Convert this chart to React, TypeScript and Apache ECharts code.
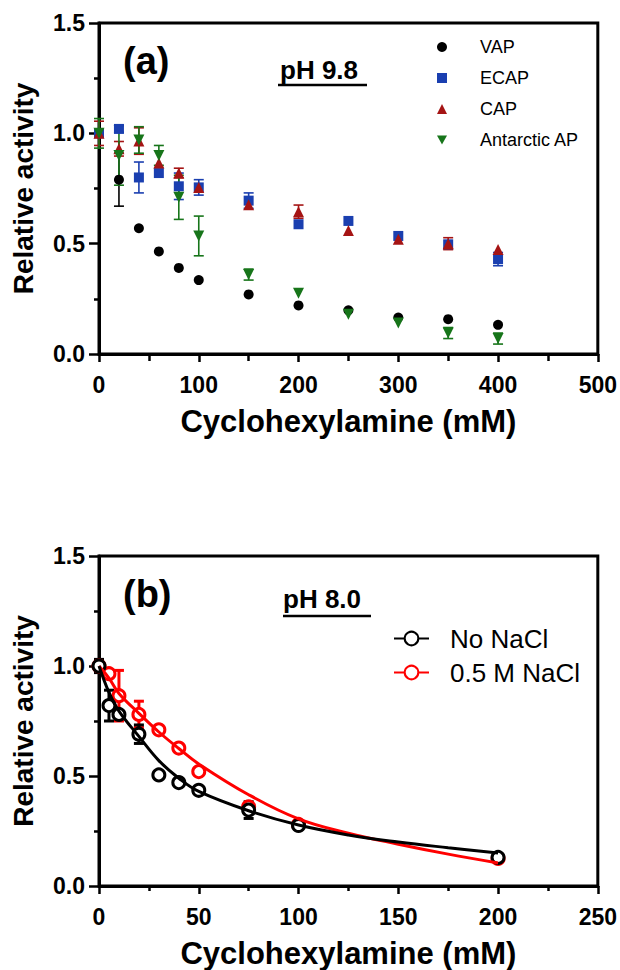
import React, { useEffect, useRef } from 'react';
import * as echarts from 'echarts';

const FONT = '"Liberation Sans", Arial, Helvetica, sans-serif';

// ---------- Panel (a): pH 9.8 ----------
const concA = [0, 20, 40, 60, 80, 100, 150, 200, 250, 300, 350, 400];
const vapMean = [1.0, 0.79, 0.57, 0.465, 0.39, 0.335, 0.27, 0.22, 0.198, 0.165, 0.158, 0.132];
const vapErr = [0, 0.12, 0, 0, 0, 0, 0, 0, 0, 0, 0, 0];
const ecapMean = [1.0, 1.02, 0.8, 0.82, 0.76, 0.755, 0.695, 0.588, 0.603, 0.535, 0.497, 0.43];
const ecapErr = [0, 0.015, 0.07, 0, 0.06, 0.035, 0.035, 0, 0, 0, 0, 0.03];
const capMean = [1.0, 0.93, 0.965, 0.865, 0.82, 0.755, 0.676, 0.645, 0.56, 0.52, 0.5, 0.474];
const capErr = [0.055, 0.033, 0.06, 0, 0.022, 0, 0, 0.03, 0, 0, 0.027, 0];
const aapMean = [1.0, 0.9, 0.97, 0.9, 0.71, 0.535, 0.36, 0.275, 0.18, 0.14, 0.095, 0.07];
const aapErr = [0.067, 0.135, 0.06, 0.045, 0.1, 0.09, 0.025, 0, 0, 0, 0.025, 0.025];

// ---------- Panel (b): pH 8.0 ----------
const concB = [0, 5, 10, 20, 30, 40, 50, 75, 100, 200];
const noNaClMean = [1.0, 0.82, 0.78, 0.69, 0.505, 0.47, 0.435, 0.345, 0.275, 0.13];
const noNaClErr = [0.03, 0.07, 0, 0.042, 0, 0, 0, 0.038, 0, 0];
const naclMean = [1.0, 0.965, 0.865, 0.78, 0.71, 0.627, 0.52, 0.36, 0.28, 0.125];
const naclErr = [0, 0, 0.115, 0.06, 0, 0, 0, 0, 0, 0];

// fitted curves
const fitX = [0, 5, 10, 20, 30, 40, 50, 75, 100, 125, 150, 175, 200];
const noNaClFit = [1.0, 0.88, 0.795, 0.68, 0.57, 0.49, 0.43, 0.342, 0.277, 0.232, 0.2, 0.174, 0.15];
const naclFit = [1.0, 0.945, 0.875, 0.785, 0.7, 0.625, 0.555, 0.415, 0.305, 0.24, 0.19, 0.145, 0.105];

const C_VAP = '#000000';
const C_ECAP = '#1a3fb0';
const C_CAP = '#a51414';
const C_AAP = '#17751a';
const C_RED = '#ff0000';

const pairs = (xs: number[], ys: number[]) => xs.map((x, i) => [x, ys[i]]);

function errSeries(name: string, xs: number[], m: number[], e: number[], color: string, width: number, cap: number, idx: number) {
  return {
    type: 'custom',
    name,
    xAxisIndex: idx,
    yAxisIndex: idx,
    silent: true,
    data: xs.map((x, i) => [x, m[i] - e[i], m[i] + e[i]]),
    encode: { x: 0, y: [1, 2] },
    renderItem: (params: any, api: any) => {
      const x = api.value(0);
      const lo = api.value(1);
      const hi = api.value(2);
      if (hi - lo <= 0) return null;
      const p1 = api.coord([x, lo]);
      const p2 = api.coord([x, hi]);
      const style = { stroke: color, lineWidth: width, fill: 'none' };
      return {
        type: 'group',
        children: [
          { type: 'line', shape: { x1: p1[0], y1: p1[1], x2: p2[0], y2: p2[1] }, style },
          { type: 'line', shape: { x1: p1[0] - cap, y1: p1[1], x2: p1[0] + cap, y2: p1[1] }, style },
          { type: 'line', shape: { x1: p2[0] - cap, y1: p2[1], x2: p2[0] + cap, y2: p2[1] }, style },
        ],
      };
    },
  };
}

function scatterA(name: string, ys: number[], color: string, symbol: string, size: number, rotate = 0) {
  return {
    type: 'scatter',
    name,
    xAxisIndex: 0,
    yAxisIndex: 0,
    data: pairs(concA, ys),
    symbol,
    symbolSize: size,
    symbolRotate: rotate,
    itemStyle: { color, opacity: 1 },
  };
}

const axisBase = {
  type: 'value',
  axisLine: { show: true, onZero: false, lineStyle: { color: '#000', width: 3 } },
  axisTick: { show: true, length: 8, lineStyle: { color: '#000', width: 2.5 } },
  minorTick: { show: true, splitNumber: 2, length: 5, lineStyle: { color: '#000', width: 2.5 } },
  splitLine: { show: false },
  minorSplitLine: { show: false },
  nameLocation: 'middle',
  nameTextStyle: { color: '#000', fontFamily: FONT, fontWeight: 'bold', fontSize: 31 },
};

function xAxis(idx: number, max: number, interval: number, minorLen: number) {
  return {
    ...axisBase,
    gridIndex: idx,
    min: 0,
    max,
    interval,
    name: 'Cyclohexylamine (mM)',
    nameGap: 52,
    minorTick: { ...axisBase.minorTick, length: minorLen },
    axisLabel: { color: '#000', fontFamily: FONT, fontWeight: 'bold', fontSize: 23, margin: 19 },
  };
}

function yAxis(idx: number) {
  return {
    ...axisBase,
    gridIndex: idx,
    min: 0,
    max: 1.5,
    interval: 0.5,
    name: 'Relative activity',
    nameGap: 62,
    nameTextStyle: { ...axisBase.nameTextStyle, fontSize: 28 },
    axisTick: { ...axisBase.axisTick, length: 10 },
    axisLabel: {
      color: '#000',
      fontFamily: FONT,
      fontWeight: 'bold',
      fontSize: 23,
      margin: 14,
      formatter: (v: number) => v.toFixed(1),
    },
  };
}

function buildOption() {
  return {
    animation: false,
    backgroundColor: '#fff',
    grid: [
      { left: 99, top: 23, width: 500, height: 331, show: true, borderColor: '#000', borderWidth: 3, backgroundColor: 'transparent' },
      { left: 99, top: 556, width: 500, height: 331, show: true, borderColor: '#000', borderWidth: 3, backgroundColor: 'transparent' },
    ],
    xAxis: [xAxis(0, 500, 100, 7), xAxis(1, 250, 50, 5)],
    yAxis: [yAxis(0), yAxis(1)],
    legend: [
      {
        data: ['VAP', 'ECAP', 'CAP', { name: 'Antarctic AP', icon: 'path://M0,0L10,0L5,9Z' }],
        orient: 'vertical',
        left: 437,
        top: 37,
        padding: 0,
        itemWidth: 10,
        itemHeight: 10,
        itemGap: 11,
        selectedMode: false,
        textStyle: { color: '#000', fontFamily: FONT, fontSize: 18, lineHeight: 20, padding: [0, 0, 0, 28] },
      },
      {
        data: ['No NaCl', '0.5 M NaCl'],
        orient: 'vertical',
        left: 393,
        top: 625,
        padding: 0,
        itemWidth: 35,
        itemHeight: 17,
        itemGap: 7,
        selectedMode: false,
        textStyle: { color: '#000', fontFamily: FONT, fontSize: 26, lineHeight: 27, padding: [0, 0, 0, 16] },
      },
    ],
    graphic: [
      { type: 'text', x: 123, y: 61, style: { text: '(a)', font: `bold 38px ${FONT}`, fill: '#000', verticalAlign: 'middle' } },
      { type: 'text', x: 280, y: 70, style: { text: 'pH 9.8', font: `bold 26px ${FONT}`, fill: '#000', verticalAlign: 'middle' } },
      { type: 'line', shape: { x1: 278, y1: 85, x2: 367, y2: 85 }, style: { stroke: '#000', lineWidth: 2.5 } },
      { type: 'text', x: 123, y: 594, style: { text: '(b)', font: `bold 38px ${FONT}`, fill: '#000', verticalAlign: 'middle' } },
      { type: 'text', x: 283, y: 599, style: { text: 'pH 8.0', font: `bold 26px ${FONT}`, fill: '#000', verticalAlign: 'middle' } },
      { type: 'line', shape: { x1: 283, y1: 616, x2: 371, y2: 616 }, style: { stroke: '#000', lineWidth: 2.5 } },
    ],
    series: [
      // panel (a)
      errSeries('VAP SD', concA, vapMean, vapErr, C_VAP, 1.6, 5, 0),
      scatterA('VAP', vapMean, C_VAP, 'circle', 10),
      errSeries('ECAP SD', concA, ecapMean, ecapErr, C_ECAP, 1.6, 5, 0),
      scatterA('ECAP', ecapMean, C_ECAP, 'rect', 10),
      errSeries('CAP SD', concA, capMean, capErr, C_CAP, 1.6, 5, 0),
      scatterA('CAP', capMean, C_CAP, 'triangle', 11),
      errSeries('Antarctic AP SD', concA, aapMean, aapErr, C_AAP, 1.6, 5, 0),
      scatterA('Antarctic AP', aapMean, C_AAP, 'triangle', 11, 180),
      // panel (b)
      {
        type: 'line',
        name: '0.5 M NaCl',
        xAxisIndex: 1,
        yAxisIndex: 1,
        data: pairs(fitX, naclFit),
        smooth: 0.4,
        symbol: 'emptyCircle',
        showSymbol: false,
        lineStyle: { color: C_RED, width: 3 },
        itemStyle: { color: C_RED },
        silent: true,
      },
      errSeries('0.5 M NaCl SD', concB, naclMean, naclErr, C_RED, 3, 5, 1),
      {
        type: 'scatter',
        name: '0.5 M NaCl data',
        xAxisIndex: 1,
        yAxisIndex: 1,
        data: pairs(concB, naclMean),
        symbol: 'circle',
        symbolSize: 12,
        itemStyle: { color: '#fff', borderColor: C_RED, borderWidth: 3, opacity: 1 },
      },
      {
        type: 'line',
        name: 'No NaCl',
        xAxisIndex: 1,
        yAxisIndex: 1,
        data: pairs(fitX, noNaClFit),
        smooth: 0.4,
        symbol: 'emptyCircle',
        showSymbol: false,
        lineStyle: { color: '#000', width: 3 },
        itemStyle: { color: '#000' },
        silent: true,
      },
      errSeries('No NaCl SD', concB, noNaClMean, noNaClErr, '#000', 3, 5, 1),
      {
        type: 'scatter',
        name: 'No NaCl data',
        xAxisIndex: 1,
        yAxisIndex: 1,
        data: pairs(concB, noNaClMean),
        symbol: 'circle',
        symbolSize: 12,
        itemStyle: { color: '#fff', borderColor: '#000', borderWidth: 3, opacity: 1 },
      },
    ],
  };
}

export default function App() {
  const ref = useRef<HTMLDivElement>(null);
  useEffect(() => {
    if (!ref.current) return;
    const chart = echarts.init(ref.current, null, { renderer: 'svg' });
    chart.setOption(buildOption() as any);
    return () => chart.dispose();
  }, []);
  return (
    <div
      ref={ref}
      style={{ position: 'absolute', left: 0, top: 0, width: 620, height: 970, background: '#fff' }}
    />
  );
}
